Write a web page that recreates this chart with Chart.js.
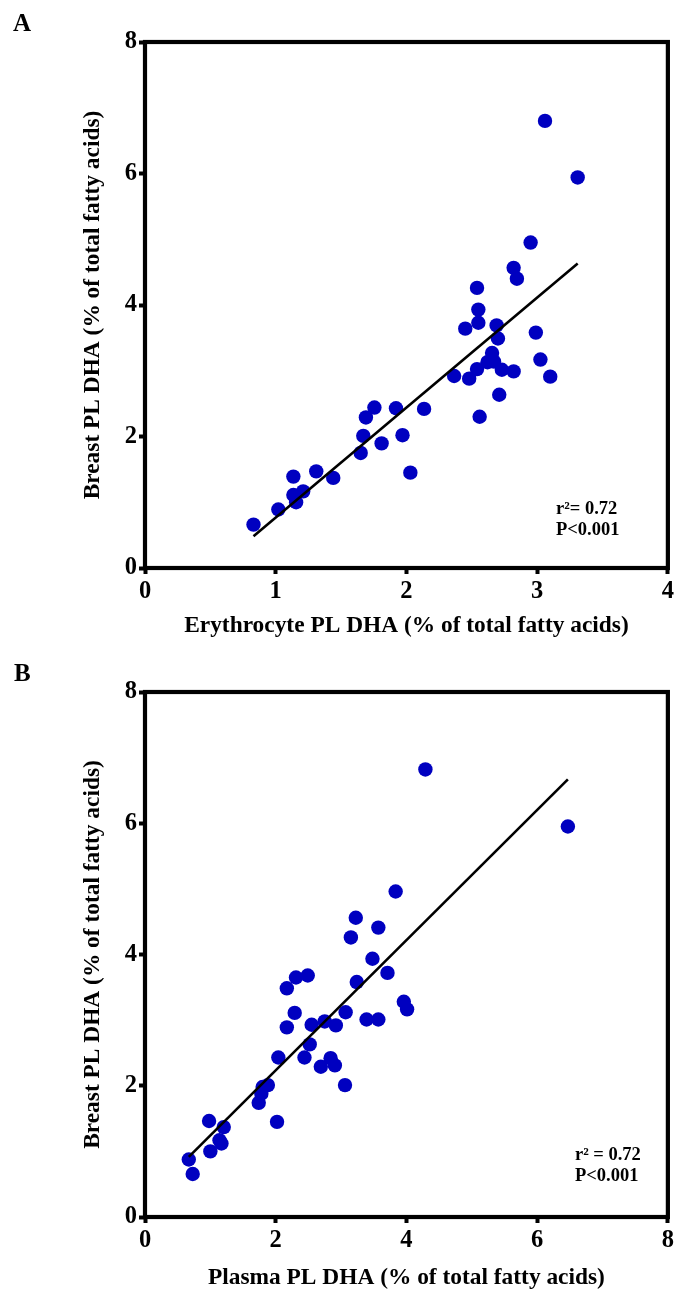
<!DOCTYPE html>
<html>
<head>
<meta charset="utf-8">
<script src="https://cdn.jsdelivr.net/npm/chart.js@4.4.1/dist/chart.umd.min.js"></script>
<style>
  html, body { margin: 0; padding: 0; background: #fff; width: 677px; height: 1290px; overflow: hidden; }
  .panel { position: absolute; left: 0; width: 677px; height: 660px; }
  .tag { position: absolute; font-family: "Liberation Serif", "Times New Roman", serif; font-weight: bold; font-size: 25px; line-height: 1; color: #000; }
</style>
</head>
<body>
<div class="panel" style="top:0px"><canvas id="chartA"></canvas></div>
<div class="panel" style="top:650px"><canvas id="chartB"></canvas></div>
<div class="tag" style="left:13px;top:10px">A</div>
<div class="tag" style="left:14px;top:660px">B</div>
<script>
// Panel A: erythrocyte vs breast phospholipid DHA (% of total fatty acids)
const erythrocyteDHA = [
  0.83, 1.02, 1.135, 1.135, 1.156, 1.21, 1.31, 1.44, 1.65, 1.67, 1.69, 1.755, 1.81, 1.92, 1.97, 2.03, 2.135,
  3.06, 3.31, 2.95, 2.82, 2.845, 2.54, 2.55, 2.55, 2.45, 2.69, 2.70, 2.99, 2.655, 2.62, 2.67, 2.54, 2.48,
  2.365, 2.73, 2.82, 3.025, 3.10, 2.71, 2.56
];
const breastDHA_A = [
  0.66, 0.89, 1.39, 1.11, 1.00, 1.165, 1.47, 1.37, 1.75, 2.01, 2.29, 2.44, 1.895, 2.43, 2.02, 1.45, 2.42,
  6.80, 5.94, 4.95, 4.565, 4.40, 4.26, 3.93, 3.73, 3.64, 3.69, 3.49, 3.58, 3.27, 3.13, 3.14, 3.025, 2.88,
  2.92, 3.015, 2.99, 3.17, 2.91, 2.635, 2.30
];

// Panel B: plasma vs breast phospholipid DHA
const plasmaDHA = [
  0.67, 0.73, 0.98, 1.00, 1.14, 1.17, 1.205, 1.74, 1.78, 1.80, 1.88, 2.02, 2.04, 2.17, 2.29, 2.17, 2.31,
  2.49, 2.44, 2.52, 2.55, 2.75, 2.92, 2.69, 2.84, 2.905, 3.06, 3.07, 3.24, 3.71, 3.39, 3.57, 3.96, 4.01,
  4.29, 3.835, 3.225, 3.57, 3.15, 3.48, 6.47
];
const breastDHA_B = [
  0.876, 0.655, 1.463, 1.00, 1.17, 1.12, 1.37, 1.74, 1.88, 1.98, 2.01, 1.45, 2.43, 2.89, 3.11, 3.485, 3.65,
  3.68, 2.43, 2.63, 2.93, 2.98, 2.92, 2.29, 2.42, 2.31, 2.01, 3.12, 3.58, 3.72, 3.01, 3.01, 3.28, 3.165,
  6.82, 4.96, 4.56, 4.41, 4.26, 3.935, 5.95
];

// Axis tick values
const xTicksA = [0, 1, 2, 3, 4];
const xTicksB = [0, 2, 4, 6, 8];
const yTicks = [0, 2, 4, 6, 8];

// Axis titles and statistics text
const yTitle = 'Breast PL DHA (% of total fatty acids)';
const xTitleA = 'Erythrocyte PL DHA (% of total fatty acids)';
const xTitleB = 'Plasma PL DHA (% of total fatty acids)';
const statsA = ['r\u00B2= 0.72', 'P<0.001'];
const statsB = ['r\u00B2 = 0.72', 'P<0.001'];

const FONT = '"Liberation Serif", "Times New Roman", Times, serif';
Chart.defaults.font.family = FONT;
Chart.defaults.font.weight = 'bold';
Chart.defaults.font.size = 23;
Chart.defaults.color = '#000';

// Ordinary least-squares fit, drawn across the observed x range
function leastSquares(xs, ys) {
  const n = xs.length;
  const mx = xs.reduce((s, v) => s + v, 0) / n;
  const my = ys.reduce((s, v) => s + v, 0) / n;
  let sxy = 0, sxx = 0;
  for (let i = 0; i < n; i++) {
    sxy += (xs[i] - mx) * (ys[i] - my);
    sxx += (xs[i] - mx) * (xs[i] - mx);
  }
  const slope = sxy / sxx;
  const intercept = my - slope * mx;
  const x0 = Math.min(...xs), x1 = Math.max(...xs);
  return [{ x: x0, y: intercept + slope * x0 }, { x: x1, y: intercept + slope * x1 }];
}

// Closed black frame around the plotting area
const framePlugin = {
  id: 'frame',
  beforeDatasetsDraw(chart, args, o) {
    const { ctx, chartArea: a } = chart;
    ctx.save();
    ctx.lineWidth = o.width;
    ctx.strokeStyle = o.color;
    ctx.lineJoin = 'miter';
    ctx.strokeRect(a.left, a.top, a.right - a.left, a.bottom - a.top);
    ctx.restore();
  }
};

// r² / P annotation anchored in data units
const statsPlugin = {
  id: 'stats',
  afterDatasetsDraw(chart, args, o) {
    const { ctx, scales } = chart;
    const x = scales.x.getPixelForValue(o.x);
    const y = scales.y.getPixelForValue(o.y);
    ctx.save();
    ctx.font = 'bold ' + o.size + 'px ' + FONT;
    ctx.fillStyle = '#000';
    ctx.textAlign = 'left';
    ctx.textBaseline = 'alphabetic';
    o.lines.forEach((t, i) => ctx.fillText(t, x, y + i * o.gap));
    ctx.restore();
  }
};

function makeScatter(id, xs, ys, cfg) {
  const points = xs.map((x, i) => ({ x: x, y: ys[i] }));
  return new Chart(document.getElementById(id), {
    type: 'scatter',
    data: {
      datasets: [
        {
          type: 'line',
          data: leastSquares(xs, ys),
          borderColor: '#000',
          borderWidth: 2.6,
          pointRadius: 0,
          fill: false,
          order: 0
        },
        {
          data: points,
          backgroundColor: '#0000C0',
          borderWidth: 0,
          pointRadius: 7.2,
          pointHoverRadius: 7.2,
          order: 1
        }
      ]
    },
    options: {
      responsive: true,
      maintainAspectRatio: false,
      animation: false,
      events: [],
      layout: { padding: { top: cfg.top, right: 7, bottom: cfg.bottom, left: 0 } },
      plugins: {
        legend: { display: false },
        tooltip: { enabled: false },
        frame: { width: 4.2, color: '#000' },
        stats: cfg.stats
      },
      scales: {
        x: {
          type: 'linear',
          min: cfg.xTicks[0],
          max: cfg.xTicks[cfg.xTicks.length - 1],
          afterBuildTicks(s) { s.ticks = cfg.xTicks.map(v => ({ value: v })); },
          afterFit(s) { s.height = 80; },
          border: { display: false },
          grid: { drawOnChartArea: false, drawTicks: true, tickLength: 6, tickWidth: 4, tickColor: '#000', color: '#000' },
          ticks: { padding: 3, font: { size: 24.5, weight: 'bold' }, maxRotation: 0 },
          title: { display: true, text: cfg.xTitle, font: { size: 23.4, weight: 'bold' }, padding: { top: 0, bottom: cfg.xTitlePad } }
        },
        y: {
          type: 'linear',
          min: 0,
          max: 8,
          afterBuildTicks(s) { s.ticks = yTicks.map(v => ({ value: v })); },
          afterFit(s) { s.width = 145; },
          border: { display: false },
          grid: { drawOnChartArea: false, drawTicks: true, tickLength: 6, tickWidth: 4, tickColor: '#000', color: '#000' },
          ticks: { padding: 2, font: { size: 24.5, weight: 'bold' } },
          title: { display: true, text: yTitle, font: { size: 23.4, weight: 'bold' }, padding: { top: 79, bottom: 0 } }
        }
      }
    },
    plugins: [framePlugin, statsPlugin]
  });
}

makeScatter('chartA', erythrocyteDHA, breastDHA_A, {
  top: 42, bottom: 12, xTicks: xTicksA, xTitle: xTitleA, xTitlePad: 8,
  stats: { x: 3.144, y: 0.825, gap: 21, size: 18.5, lines: statsA }
});

makeScatter('chartB', plasmaDHA, breastDHA_B, {
  top: 42, bottom: 13, xTicks: xTicksB, xTitle: xTitleB, xTitlePad: 5,
  stats: { x: 6.578, y: 0.864, gap: 21, size: 18.5, lines: statsB }
});
</script>
</body>
</html>
